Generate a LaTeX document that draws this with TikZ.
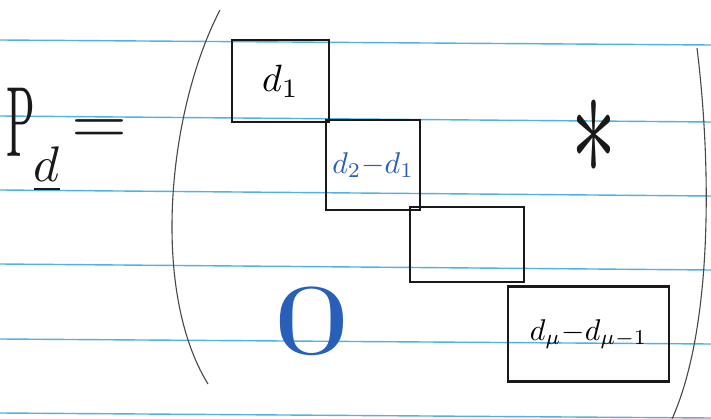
\documentclass[tikz,border=0pt]{standalone}
\usepackage{graphicx}
\definecolor{ruled}{RGB}{80,178,228}
\definecolor{ink}{RGB}{25,25,25}
\definecolor{blueink}{RGB}{40,95,185}
\newcommand{\myscaled}[2]{\scalebox{#1}{$#2$}}
\begin{document}
\begin{tikzpicture}[x=1pt,y=-1pt,
  ruleline/.style={ruled,line width=1.4pt},
  blockbox/.style={draw=ink,line width=2.3pt,inner sep=0pt,anchor=center},
  paren/.style={draw=ink!80,line width=1.1pt},
  bigtext/.style={text=ink,inner sep=0pt}]
\useasboundingbox[fill=white] (0,0) rectangle (711,419);
% ruled paper
\foreach \a/\b in {40/45,116/122,190/196,264/270,339/344,413/418}
  \draw[ruleline] (0,\a) -- (711,\b);
% left side
\node[bigtext,anchor=base west] (Pd) at (6,157)
  {\scalebox{4.2}[10]{$\mathrm{P}$}\kern-1pt\raisebox{-25pt}{\myscaled{5}{\underline{d}}}};
\node[bigtext] (eq) at (99,132) {\scalebox{7.2}[6.5]{$=$}};
% parentheses
\draw[paren] (220,10) .. controls (168,110) and (150,290) .. (208,384);
\draw[paren] (697,48) .. controls (712,170) and (712,330) .. (672,419);
% blocks
\node[blockbox,minimum width=97pt,minimum height=82pt] (b1) at (280.5,81) {\myscaled{3.8}{d_1}};
\node[blockbox,minimum width=94pt,minimum height=90pt,text=blueink] (b2) at (373,165) {\myscaled{3}{d_2{-}d_1}};
\node[blockbox,minimum width=114pt,minimum height=75pt] (b3) at (467,244.5) {};
\node[blockbox,minimum width=161pt,minimum height=95pt] (b4) at (588.5,334) {\myscaled{3}{d_\mu{-}d_{\mu-1}}};
% entries
\node[bigtext] (star) at (594,137) {\scalebox{9}[16]{$*$}};
\node[bigtext,text=blueink] (zero) at (312,321) {\scalebox{15}[10]{$0$}};
\end{tikzpicture}
\end{document}
